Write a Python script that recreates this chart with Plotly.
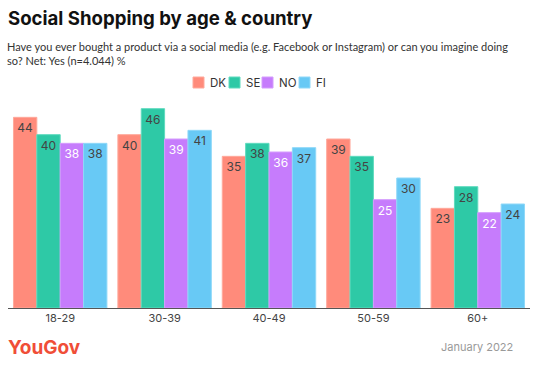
import plotly.graph_objects as go

categories = ["18-29", "30-39", "40-49", "50-59", "60+"]
dk = [44, 40, 35, 39, 23]
se = [40, 46, 38, 35, 28]
no = [38, 39, 36, 25, 22]
fi = [38, 41, 37, 30, 24]

series = [
    ("DK", dk, "#FF8B7B", "#FFA99C", "#444444"),
    ("SE", se, "#2EC9A6", "#5FDBBE", "#444444"),
    ("NO", no, "#C67CFC", "#D49CFD", "#FFFFFF"),
    ("FI", fi, "#68C9F5", "#8FD8F8", "#444444"),
]

fig = go.Figure()
for name, vals, col, edge, tcol in series:
    fig.add_trace(go.Bar(
        x=categories, y=vals, name=name,
        marker=dict(color=col, line=dict(color=edge, width=1)),
        text=[str(v) for v in vals], textposition="inside",
        insidetextanchor="end", textangle=0,
        textfont=dict(family="Inter", size=12, color=tcol),
        constraintext="none",
    ))

fig.update_layout(
    width=538, height=365,
    margin=dict(l=8, r=8, t=100, b=57, autoexpand=False),
    paper_bgcolor="white", plot_bgcolor="white",
    barmode="group", bargap=0.105, bargroupgap=0,
    font=dict(family="Inter", color="#333333"),
    showlegend=False,
    xaxis=dict(showgrid=False, showline=True, linecolor="#555555", linewidth=1,
               ticks="", tickfont=dict(size=11, color="#444444")),
    yaxis=dict(range=[0, 48], visible=False, showgrid=False),
    uniformtext=dict(minsize=8, mode="show"),
)

# pixel helpers: plot spans x 8..530, y 100..308
def px_x(x):
    return (x - 8) / 522
def px_y(y):
    return (308 - y) / 208

def ann(text, x, y, size, color, xanchor="left", yanchor="middle", weight=None, family="Inter"):
    fig.add_annotation(text=text, xref="paper", yref="paper", x=x, y=y,
                       xanchor=xanchor, yanchor=yanchor, showarrow=False,
                       align="left", xshift=0,
                       font=dict(family=family, size=size, color=color, weight=weight))

ann("Social Shopping by age & country", px_x(6), px_y(18), 18.6, "#111111", weight="bold")
ann("Have you ever bought a product via a social media (e.g. Facebook or Instagram) or can you imagine doing<br>so? Net: Yes (n=4.044) %",
    px_x(5), px_y(54), 11, "#333333", family="Lato")
ann("YouGov", px_x(6), px_y(347), 19, "#F04E37", weight="bold")
ann("January 2022", px_x(515), px_y(347), 11, "#999999", xanchor="right")

# custom legend
legend_x = [193, 229, 262, 299]
for (name, vals, col, edge, tcol), lx in zip(series, legend_x):
    fig.add_shape(type="rect", xref="paper", yref="paper",
                  x0=px_x(lx), x1=px_x(lx + 11), y0=px_y(88), y1=px_y(77),
                  fillcolor=col, line=dict(color=edge, width=1))
    ann(name, px_x(lx + 15), px_y(83), 11.5, "#333333")

fig.write_html("out.html", config={"displayModeBar": False},
               post_script="document.body.style.margin='0';")
